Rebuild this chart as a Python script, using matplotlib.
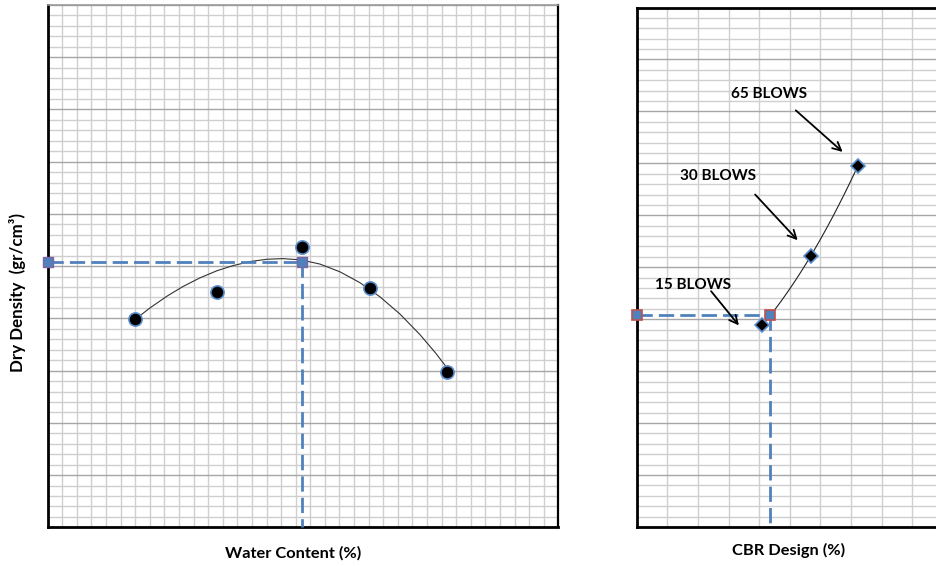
"""
Compaction curve (dry density vs water content) and CBR design chart
"""

import numpy as np
import matplotlib.pyplot as plt
from matplotlib.ticker import MultipleLocator

# ─── data ───────────────────────────────────────────────────────────────────
# compaction test points
water_content = [6.0, 11.6, 17.4, 22.1, 27.4]          # %
dry_density   = [1.699, 1.725, 1.768, 1.729, 1.649]    # gr/cm3

# compaction curve as drawn on the sheet
curve_w   = [5.98, 7.01, 8.18, 9.27, 10.44, 11.60, 12.70, 13.87, 15.03, 16.13,
             17.36, 18.66, 20.03, 21.40, 22.77, 24.15, 25.52, 26.55, 27.37]
curve_rho = [1.6988, 1.7100, 1.7213, 1.7305, 1.7388, 1.7456, 1.7505, 1.7544,
             1.7566, 1.7572, 1.7560, 1.7520, 1.7446, 1.7342, 1.7207, 1.7041,
             1.6844, 1.6675, 1.6527]

# optimum point
omc = 17.4
mdd = 1.754

# CBR test points (15 / 30 / 65 blows)
blows_labels = ["15 BLOWS", "30 BLOWS", "65 BLOWS"]
cbr_values   = [4.10, 5.69, 7.22]                      # %
cbr_density  = [1.694, 1.761, 1.847]                   # gr/cm3

# design point
design_cbr = 4.34
design_rho = 1.704

# label text position / arrow tail / arrow head (CBR, density)
label_xy = [(1.84, 1.733), (2.66, 1.838), (4.31, 1.917)]
tail_xy  = [(2.43, 1.727), (3.87, 1.820), (5.20, 1.901)]
head_xy  = [(3.34, 1.694), (5.26, 1.776), (6.73, 1.861)]
# ────────────────────────────────────────────────────────────────────────────

BLUE = "#4F81BD"
FONT = ["Lato", "DejaVu Sans"]

plt.rcParams["font.family"] = FONT

fig = plt.figure(figsize=(9.37, 5.66), dpi=100)

W, H = 937.0, 566.0


def box(x0, y0, x1, y1):
    return [x0 / W, 1 - y1 / H, (x1 - x0) / W, (y1 - y0) / H]


def graph_paper(ax, x_minor, x_major):
    ax.xaxis.set_major_locator(MultipleLocator(x_major))
    ax.xaxis.set_minor_locator(MultipleLocator(x_minor))
    ax.yaxis.set_major_locator(MultipleLocator(0.05))
    ax.yaxis.set_minor_locator(MultipleLocator(0.01))
    ax.grid(which="minor", color="#CFCFCF", lw=1.0)
    ax.grid(which="major", axis="y", color="#A6A6A6", lw=1.0)
    ax.grid(which="major", axis="x", color="#CFCFCF", lw=1.0)
    ax.tick_params(which="both", length=0, labelbottom=False, labelleft=False)
    ax.set_axisbelow(True)


# ─── left: compaction curve ─────────────────────────────────────────────────
ax1 = fig.add_axes(box(47.7, 5.0, 558.3, 527.3))
ax1.set_xlim(0, 35)
ax1.set_ylim(1.5, 2.0)
graph_paper(ax1, 1, 1)

for side in ["left", "bottom"]:
    ax1.spines[side].set_linewidth(2.0)
    ax1.spines[side].set_color("black")
ax1.spines["right"].set_linewidth(1.6)
ax1.spines["top"].set_linewidth(1.2)
ax1.spines["top"].set_color("#9A9A9A")

ax1.plot(curve_w, curve_rho, color="#333333", lw=0.8, zorder=3)

ax1.plot([0, omc], [mdd, mdd], color=BLUE, lw=2, ls=(0, (5.5, 2.2)),
         clip_on=False, zorder=4)
ax1.plot([omc, omc], [mdd, 1.5], color=BLUE, lw=2, ls=(0, (5.5, 2.2)),
         clip_on=False, zorder=4)
ax1.plot([0, omc], [mdd, mdd], ls="none", marker="s", ms=6.5,
         mfc=BLUE, mec="#8064A2", mew=1.0, clip_on=False, zorder=5)

ax1.plot(water_content, dry_density, ls="none", marker="o", ms=9.5,
         mfc="black", mec="#5B8FD0", mew=1.2, zorder=6)

# ─── right: CBR design ──────────────────────────────────────────────────────
ax2 = fig.add_axes(box(636.7, 7.5, 942.7, 527.0))
ax2.set_xlim(0, 10)
ax2.set_ylim(1.5, 2.0)
graph_paper(ax2, 1, 1)

for side in ["left", "bottom", "top", "right"]:
    ax2.spines[side].set_linewidth(2.0)
    ax2.spines[side].set_color("black")

# 2nd order trendline through the three CBR points
coef = np.polyfit(cbr_values, cbr_density, 2)
xs = np.linspace(min(cbr_values), max(cbr_values), 100)
ax2.plot(xs, np.polyval(coef, xs), color="#222222", lw=0.8, zorder=3)

ax2.plot([0, design_cbr], [design_rho, design_rho], color=BLUE, lw=2,
         ls=(0, (5.5, 2.2)), clip_on=False, zorder=4)
ax2.plot([design_cbr, design_cbr], [design_rho, 1.5], color=BLUE, lw=2,
         ls=(0, (5.5, 2.2)), clip_on=False, zorder=4)
ax2.plot([0, design_cbr], [design_rho, design_rho], ls="none", marker="s",
         ms=6.5, mfc=BLUE, mec="#C0504D", mew=1.2, clip_on=False, zorder=5)

ax2.plot(cbr_values, cbr_density, ls="none", marker="D", ms=7,
         mfc="black", mec="#5B8FD0", mew=1.2, zorder=6)

for label, lxy, txy, hxy in zip(blows_labels, label_xy, tail_xy, head_xy):
    ax2.text(lxy[0], lxy[1], label, ha="center", va="center",
             fontsize=11, fontweight="bold", zorder=7)
    ax2.annotate("", xy=hxy, xytext=txy,
                 arrowprops=dict(arrowstyle="->", color="black", lw=1.3,
                                 mutation_scale=15, shrinkA=0, shrinkB=0),
                 zorder=7)

# ─── axis titles ────────────────────────────────────────────────────────────
fig.text(293 / W, 1 - 553 / H, "Water Content (%)", ha="center", va="center",
         fontsize=11.8, fontweight="bold")
fig.text(789 / W, 1 - 550 / H, "CBR Design (%)", ha="center", va="center",
         fontsize=11.8, fontweight="bold")
fig.text(18 / W, 1 - 292 / H, "Dry Density  (gr/cm³)", ha="center",
         va="center", rotation=90, fontsize=12.2, fontweight="bold")

fig.savefig("out.png", dpi=100)
